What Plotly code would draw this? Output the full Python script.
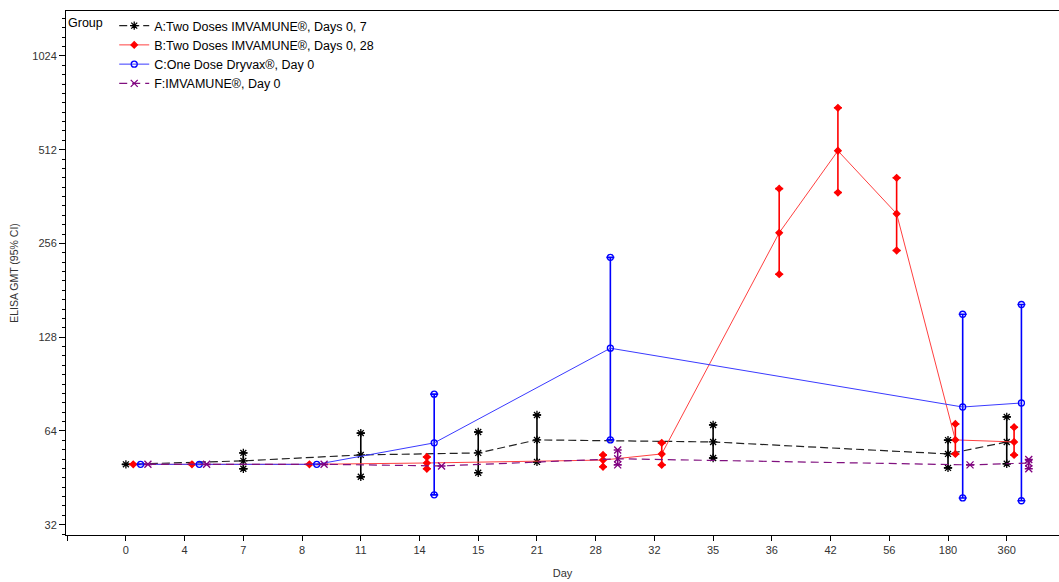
import math
import plotly.graph_objects as go

# ---------------- data ----------------
days = [0, 4, 7, 8, 11, 14, 15, 21, 28, 32, 35, 36, 42, 56, 180, 360]
y_tick_vals = [32, 64, 128, 256, 512, 1024]

A_name = "A:Two Doses IMVAMUNE®, Days 0, 7"
A_days = [0, 7, 11, 15, 21, 35, 180, 360]
A_gmt = [50, 51.3, 53.6, 54.4, 59.9, 59.0, 54.0, 59.0]
A_lo = [None, 48.4, 45.6, 47.0, 50.9, 52.4, 48.7, 50.2]
A_hi = [None, 54.4, 63.0, 63.5, 72.0, 66.9, 59.8, 71.0]

B_name = "B:Two Doses IMVAMUNE®, Days 0, 28"
B_days = [0, 4, 8, 14, 28, 32, 36, 42, 56, 180, 360]
B_gmt = [50, 50, 50, 50.5, 51.6, 54.0, 277, 508, 319, 59.9, 59.0]
B_lo = [None, None, None, 48.4, 49.1, 49.8, 204, 373, 243, 54.0, 53.6]
B_hi = [None, None, None, 52.8, 53.6, 58.6, 384, 698, 416, 67.4, 65.8]

C_name = "C:One Dose Dryvax®, Day 0"
C_days = [0, 4, 8, 14, 28, 180, 360]
C_gmt = [50, 50, 50, 58.6, 118, 76.4, 78.7]
C_lo = [None, None, None, 39.9, 59.9, 39.0, 38.2]
C_hi = [None, None, None, 84.0, 231, 151.7, 163]

F_name = "F:IMVAMUNE®, Day 0"
F_days = [0, 4, 8, 14, 28, 180, 360]
F_gmt = [50, 50, 50, 49.4, 52.1, 49.8, 50.5]
F_lo = [None, None, None, None, 49.8, None, 48.4]
F_hi = [None, None, None, None, 55.6, None, 51.8]

# ---------------- styling ----------------
groups = [
    (A_name, A_days, A_gmt, A_lo, A_hi, 0.0, "#000000", "asterisk-open", 7, "8px,4px", 1.2),
    (B_name, B_days, B_gmt, B_lo, B_hi, 0.125, "#FF0000", "diamond", 5, "solid", 1.0),
    (C_name, C_days, C_gmt, C_lo, C_hi, 0.25, "#0000FF", "circle-open", 6, "solid", 1.0),
    (F_name, F_days, F_gmt, F_lo, F_hi, 0.375, "#800080", "x-thin-open", 7, "8px,5px", 1.2),
]

line_colors = {"#000000": "#222222", "#FF0000": "#FF4040", "#0000FF": "#3A3AFF", "#800080": "#80107F"}

fig = go.Figure()
l2 = lambda v: math.log2(v)

for name, dd, gm, lo, hi, off, col, sym, msz, dash, lw in groups:
    xs = [days.index(d) + off for d in dd]
    ys = [l2(v) for v in gm]
    plus = [(l2(h) - l2(g)) if h is not None else 0 for g, h in zip(gm, hi)]
    minus = [(l2(g) - l2(l)) if l is not None else 0 for g, l in zip(gm, lo)]
    fig.add_trace(go.Scatter(
        x=xs, y=ys, name=name, mode="lines+markers",
        line=dict(color=line_colors[col], width=lw, dash=dash),
        marker=dict(symbol=sym, size=msz, color=col, line=dict(color=col, width=1.3)),
        error_y=dict(type="data", symmetric=False, array=plus, arrayminus=minus,
                     color=col, thickness=1.6, width=4),
    ))
    # markers at CI ends
    cx, cy = [], []
    for x, l, h in zip(xs, lo, hi):
        if l is not None:
            cx += [x, x]
            cy += [l2(l), l2(h)]
    fig.add_trace(go.Scatter(
        x=cx, y=cy, mode="markers", showlegend=False, hoverinfo="skip",
        marker=dict(symbol=sym, size=msz, color=col, line=dict(color=col, width=1.3)),
    ))

font = "Liberation Sans, Arial, sans-serif"
fig.update_layout(
    width=1059, height=582,
    margin=dict(l=66, r=0, t=11, b=47),
    paper_bgcolor="white", plot_bgcolor="white",
    font=dict(family=font, size=11, color="#222222"),
    showlegend=True,
    legend=dict(
        x=0.0, y=1.0, xanchor="left", yanchor="top",
        bgcolor="rgba(255,255,255,0)",
        font=dict(family=font, size=12.5, color="#000000"),
        title=dict(text="Group ", side="left", font=dict(family=font, size=12.5, color="#000000")),
        tracegroupgap=0, itemwidth=30,
    ),
    xaxis=dict(
        range=[-1.02, 15.89],
        tickmode="array",
        tickvals=[-1] + list(range(len(days))),
        ticktext=[""] + [str(d) for d in days],
        ticks="outside", ticklen=5, tickwidth=1, tickcolor="#000",
        showline=True, linecolor="#000", linewidth=1, mirror=True,
        showgrid=False, zeroline=False,
        tickfont=dict(size=11, color="#333"),
        title=dict(text="Day", font=dict(size=11, color="#333"), standoff=14),
    ),
    yaxis=dict(
        range=[4.89, 10.48],
        tickmode="array",
        tickvals=[l2(v) for v in y_tick_vals],
        ticktext=[str(v) for v in y_tick_vals],
        ticks="outside", ticklen=6, tickwidth=1, tickcolor="#000",
        minor=dict(tick0=5, dtick=0.1, ticks="outside", ticklen=3, tickcolor="#000", showgrid=False),
        showline=True, linecolor="#000", linewidth=1,
        showgrid=False, zeroline=False,
        tickfont=dict(size=11, color="#333"),
        title=dict(text="ELISA GMT (95% CI)", font=dict(size=10.5, color="#333"), standoff=11),
    ),
)

fig.write_html("out.html")
